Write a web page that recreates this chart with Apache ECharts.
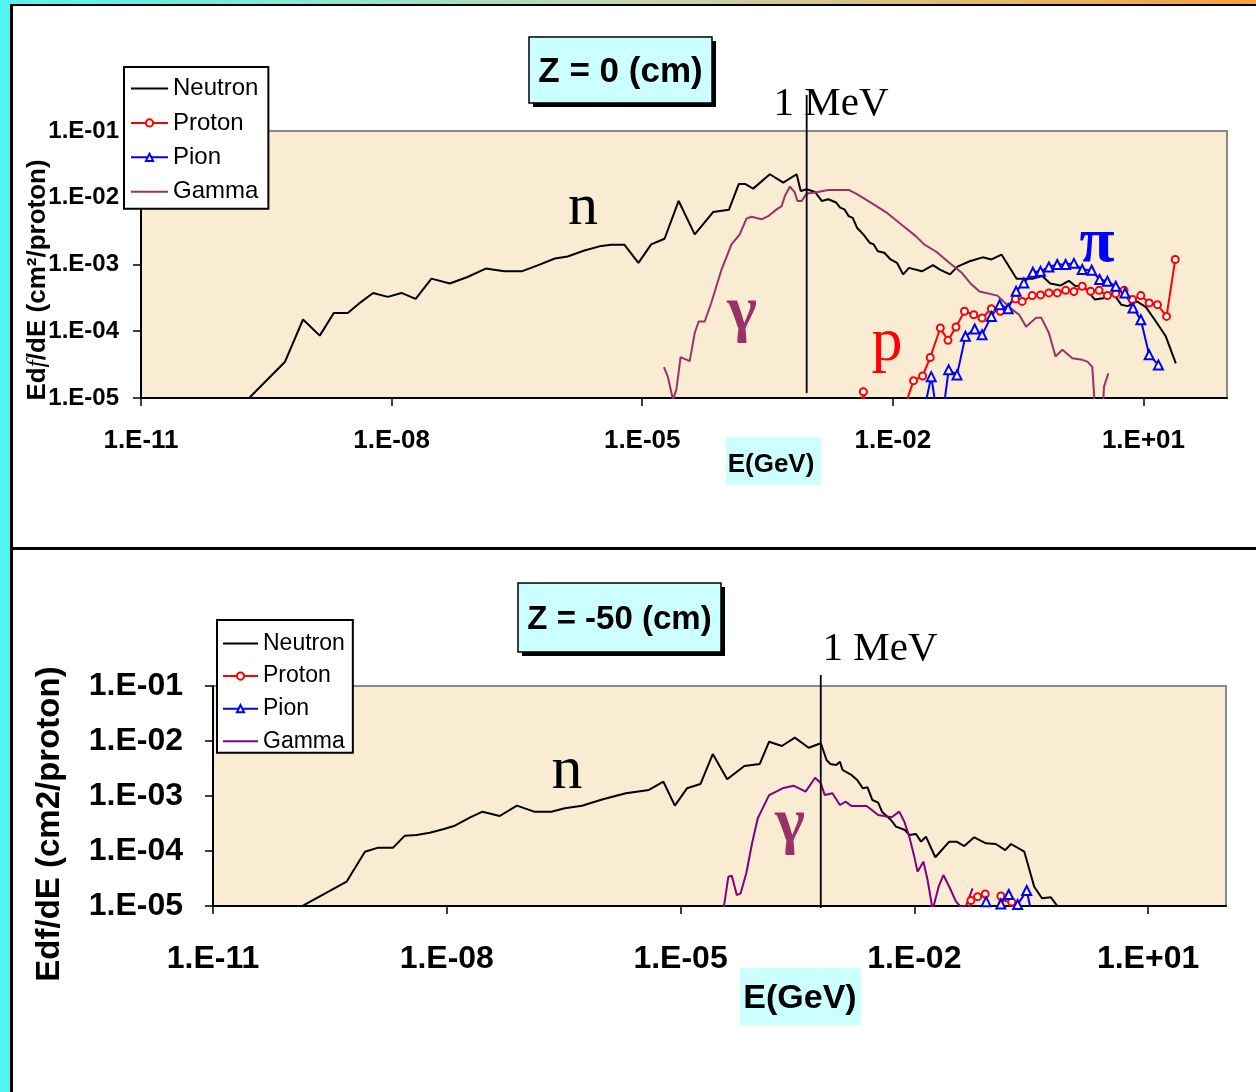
<!DOCTYPE html>
<html>
<head>
<meta charset="utf-8">
<title>Edf/dE spectra</title>
<script src="https://cdn.jsdelivr.net/npm/echarts@6.0.0/dist/echarts.min.js"></script>
<style>
  html, body { margin:0; padding:0; background:#fff; }
  #page { position:relative; width:1256px; height:1092px; overflow:hidden; background:#fff; }
  #top { position:absolute; left:0; top:0; width:1256px; height:548px; }
  #bottom { position:absolute; left:0; top:548px; width:1256px; height:544px; }
  .deco { position:absolute; }
</style>
</head>
<body>
<div id="page">
  <div id="top"></div>
  <div id="bottom"></div>
  <div class="deco" style="left:0;top:0;width:10px;height:1092px;background:#52f4ef"></div>
  <div class="deco" style="left:0;top:0;width:1256px;height:4px;background:linear-gradient(to right,#52f4ef,#c4d6b0 50%,#f7a03c)"></div>
  <div class="deco" style="left:10px;top:4px;width:1246px;height:2px;background:#000"></div>
  <div class="deco" style="left:10px;top:4px;width:3px;height:1088px;background:#000"></div>
  <div class="deco" style="left:12px;top:547px;width:1244px;height:3px;background:#000"></div>
</div>
<script>
// ---------------- DATA (E in GeV, Edf/dE in cm^2/proton) ----------------
const seriesNames = ['Neutron', 'Proton', 'Pion', 'Gamma'];
const xTickLabels = ['1.E-11', '1.E-08', '1.E-05', '1.E-02', '1.E+01'];
const yTickLabels = ['1.E-05', '1.E-04', '1.E-03', '1.E-02', '1.E-01'];

// Z = 0 cm
const neutronTop = [[1.86e-10,9.3e-6],[5.3e-10,3.5e-5],[8.7e-10,1.5e-4],[1.38e-9,8.6e-5],[2.03e-9,1.88e-4],[2.99e-9,1.88e-4],[4.25e-9,2.71e-4],[6.0e-9,3.75e-4],[9.0e-9,3.27e-4],[1.31e-8,3.75e-4],[1.94e-8,3.05e-4],[3.0e-8,6.15e-4],[4.97e-8,5.2e-4],[8.1e-8,6.5e-4],[1.34e-7,8.7e-4],[2.23e-7,7.9e-4],[3.6e-7,7.9e-4],[5.6e-7,9.7e-4],[9.0e-7,1.23e-3],[1.28e-6,1.32e-3],[2.03e-6,1.62e-3],[3.08e-6,1.87e-3],[4.25e-6,1.98e-3],[6.1e-6,1.98e-3],[9.0e-6,1.06e-3],[1.28e-5,2.0e-3],[1.85e-5,2.43e-3],[2.73e-5,8.95e-3],[4.25e-5,2.83e-3],[7.05e-5,6.1e-3],[1.09e-4,6.6e-3],[1.43e-4,1.6e-2],[1.72e-4,1.6e-2],[2.13e-4,1.37e-2],[3.37e-4,2.25e-2],[4.88e-4,1.69e-2],[7.05e-4,2.25e-2],[7.9e-4,1.26e-2],[9.3e-4,1.34e-2],[1.17e-3,1.22e-2],[1.41e-3,8.95e-3],[1.69e-3,9.5e-3],[2.09e-3,8.5e-3],[2.34e-3,7.1e-3],[2.63e-3,6.7e-3],[2.96e-3,5.3e-3],[3.31e-3,5.0e-3],[3.72e-3,3.56e-3],[4.43e-3,2.83e-3],[5.27e-3,2.12e-3],[5.9e-3,2.0e-3],[6.6e-3,1.58e-3],[7.9e-3,1.5e-3],[9.4e-3,1.19e-3],[1.12e-2,1.06e-3],[1.33e-2,7.1e-4],[1.56e-2,8.9e-4],[2.23e-2,7.9e-4],[3.02e-2,9.8e-4],[3.66e-2,8.4e-4],[4.83e-2,7.1e-4],[5.94e-2,9.3e-4],[8.3e-2,1.12e-3],[0.119,1.28e-3],[0.152,1.19e-3],[0.2,1.41e-3],[0.303,6.1e-4],[0.466,6.1e-4],[0.614,6.7e-4],[0.766,5.2e-4],[1.01,4.83e-4],[1.28,5.7e-4],[1.54,4.72e-4],[1.88,4.83e-4],[2.62,2.98e-4],[3.31,3.13e-4],[4.3,3.75e-4],[5.42,2.5e-4],[6.5,2.38e-4],[8.36,2.8e-4],[10.7,2.3e-4],[14.1,1.4e-4],[18.5,8.4e-5],[24.4,3.3e-5]];
const protonTop = [[3.9e-3,5e-6],[4.44e-3,1.24e-5],[5.0e-3,5e-6],[1.28e-2,5.5e-6],[1.77e-2,1.82e-5],[2.27e-2,2.14e-5],[2.8e-2,4.04e-5],[3.7e-2,1.12e-4],[4.57e-2,7.3e-5],[5.7e-2,1.16e-4],[7.2e-2,1.99e-4],[9.3e-2,1.77e-4],[0.117,1.58e-4],[0.151,2.18e-4],[0.194,1.99e-4],[0.294,3.05e-4],[0.353,2.8e-4],[0.466,3.42e-4],[0.586,3.5e-4],[0.738,3.75e-4],[0.929,3.75e-4],[1.17,4.1e-4],[1.47,3.93e-4],[1.85,4.72e-4],[2.33,3.96e-4],[2.94,4.1e-4],[3.7,3.42e-4],[4.66,3.66e-4],[5.86,4.1e-4],[7.4,2.98e-4],[9.3,3.42e-4],[11.7,2.65e-4],[14.7,2.5e-4],[18.9,1.67e-4],[24.0,1.19e-3]];
const pionTop = [[2.23e-2,4.6e-6],[2.88e-2,2.09e-5],[3.47e-2,4.6e-6],[3.87e-2,4.6e-6],[4.66e-2,2.64e-5],[5.86e-2,2.22e-5],[7.4e-2,8.4e-5],[9.55e-2,1.08e-4],[0.117,8.85e-5],[0.151,1.67e-4],[0.19,2.5e-4],[0.24,2.18e-4],[0.299,3.96e-4],[0.37,5.3e-4],[0.474,7.65e-4],[0.586,7.9e-4],[0.738,9.2e-4],[0.929,1.0e-3],[1.17,1.0e-3],[1.47,1.04e-3],[1.85,8.4e-4],[2.4,8.2e-4],[2.99,5.95e-4],[3.7,5.6e-4],[4.66,4.72e-4],[6.0,3.75e-4],[7.5,2.23e-4],[9.3,1.49e-4],[11.7,4.43e-5],[15.1,3.13e-5]];
const gammaTop = [[1.82e-5,2.9e-5],[2.03e-5,2.07e-5],[2.33e-5,9.5e-6],[2.56e-5,1.32e-5],[2.88e-5,4.1e-5],[3.7e-5,3.56e-5],[4.25e-5,9.4e-5],[4.74e-5,1.4e-4],[5.6e-5,1.4e-4],[6.7e-5,2.65e-4],[8.9e-5,8.4e-4],[1.17e-4,2.0e-3],[1.47e-4,2.83e-3],[1.77e-4,4.86e-3],[2.03e-4,5.2e-3],[2.68e-4,4.75e-3],[3.22e-4,5.3e-3],[4.06e-4,6.7e-3],[4.66e-4,7.5e-3],[5.1e-4,1.06e-2],[5.86e-4,1.47e-2],[6.7e-4,1.2e-2],[7.2e-4,8.95e-3],[8.1e-4,8.95e-3],[9.3e-4,1.16e-2],[1.17e-3,1.2e-2],[1.69e-3,1.31e-2],[2.96e-3,1.31e-2],[3.72e-3,1.13e-2],[5.9e-3,7.98e-3],[8.4e-3,6.0e-3],[1.33e-2,3.77e-3],[1.88e-2,2.66e-3],[2.37e-2,2.0e-3],[3.34e-2,1.54e-3],[4.74e-2,1.06e-3],[6.7e-2,7.5e-4],[8.4e-2,5.3e-4],[0.109,3.93e-4],[0.179,3.42e-4],[0.261,2.18e-4],[0.325,1.77e-4],[0.394,1.17e-4],[0.52,1.6e-4],[0.597,1.6e-4],[0.738,9.4e-5],[0.887,4.18e-5],[1.07,5.27e-5],[1.41,3.95e-5],[1.85,3.73e-5],[2.13,3.5e-5],[2.44,2.92e-5],[2.68,5e-6],[3.22,5e-6],[3.37,1.48e-5],[3.8,2.35e-5]];

// Z = -50 cm
const neutronBottom = [[1.24e-10,9.1e-6],[5.18e-10,2.77e-5],[8.9e-10,9.7e-5],[1.32e-9,1.15e-4],[2.05e-9,1.15e-4],[2.9e-9,1.9e-4],[4.09e-9,1.95e-4],[6.05e-9,2.15e-4],[8.97e-9,2.48e-4],[1.27e-8,2.88e-4],[1.97e-8,4.04e-4],[2.87e-8,5.19e-4],[4.78e-8,4.33e-4],[7.94e-8,6.67e-4],[1.32e-7,5.19e-4],[2.2e-7,5.19e-4],[3.27e-7,5.97e-4],[5.43e-7,6.67e-4],[1.01e-6,8.7e-4],[1.99e-6,1.12e-3],[3.93e-6,1.29e-3],[6.03e-6,1.82e-3],[8.45e-6,6.67e-4],[1.21e-5,1.38e-3],[1.8e-5,1.65e-3],[2.59e-5,5.8e-3],[3.97e-5,2.01e-3],[6.59e-5,3.52e-3],[1.04e-4,3.82e-3],[1.37e-4,9.7e-3],[2.0e-4,8.1e-3],[2.93e-4,1.15e-2],[4.41e-4,7.55e-3],[6.32e-4,9.1e-3],[7.48e-4,4.52e-3],[8.38e-4,3.82e-3],[9.95e-4,3.66e-3],[1.11e-3,4.2e-3],[1.2e-3,2.97e-3],[1.56e-3,2.41e-3],[1.85e-3,1.95e-3],[2.19e-3,1.38e-3],[2.51e-3,1.44e-3],[2.9e-3,8.45e-4],[3.44e-3,7.55e-4],[3.85e-3,5.19e-4],[5.02e-3,3.66e-4],[5.82e-3,2.77e-4],[7.6e-3,2.41e-4],[8.63e-3,1.95e-4],[1.05e-2,2.04e-4],[1.22e-2,1.48e-4],[1.41e-2,1.82e-4],[1.86e-2,7.69e-5],[2.81e-2,1.48e-4],[3.48e-2,1.48e-4],[4.38e-2,1.23e-4],[5.87e-2,1.77e-4],[8.3e-2,1.38e-4],[0.111,1.34e-4],[0.147,1.04e-4],[0.174,1.34e-4],[0.258,9.7e-5],[0.346,2.24e-5],[0.435,1.38e-5],[0.566,1.44e-5],[0.692,9.8e-6]];
const protonBottom = [[4.93e-2,8e-6],[5.33e-2,1.26e-5],[6.49e-2,1.48e-5],[8.13e-2,1.65e-5],[9.14e-2,8e-6],[0.116,8e-6],[0.129,1.52e-5],[0.158,1.4e-5],[0.178,1.18e-5],[0.191,8e-6]];
const pionBottom = [[7.23e-2,8e-6],[8.34e-2,1.2e-5],[9.44e-2,8e-6],[0.113,8e-6],[0.129,1.09e-5],[0.163,1.62e-5],[0.212,1.06e-5],[0.277,1.91e-5],[0.316,8e-6]];
const gammaBottom = [[3.55e-5,8.5e-6],[4.11e-5,3.41e-5],[4.55e-5,3.56e-5],[5.27e-5,1.58e-5],[5.9e-5,1.7e-5],[6.98e-5,3.94e-5],[8.28e-5,1.38e-4],[9.8e-5,3.94e-4],[1.16e-4,6.4e-4],[1.37e-4,1.04e-3],[2.04e-4,1.38e-3],[2.81e-4,1.54e-3],[4.03e-4,1.2e-3],[5.33e-4,2.15e-3],[6.32e-4,1.7e-3],[7.08e-4,1.04e-3],[8.9e-4,1.12e-3],[1.11e-3,6.86e-4],[1.32e-3,7.87e-4],[1.56e-3,6.58e-4],[2.45e-3,6.58e-4],[3.44e-3,4.52e-4],[5.12e-3,4.1e-4],[6.41e-3,5.19e-4],[7.45e-3,3.41e-4],[8.63e-3,1.82e-4],[1.0e-2,7.89e-5],[1.1e-2,4.21e-5],[1.31e-2,6.4e-5],[1.48e-2,2.97e-5],[1.72e-2,8.5e-6],[2.05e-2,2.24e-5],[2.36e-2,3.66e-5],[2.81e-2,2.24e-5],[3.43e-2,1.2e-5],[3.97e-2,9.6e-6],[4.6e-2,1.0e-5],[5.6e-2,2.1e-5]];

// position of the "1 MeV" marker line (GeV)
const markerTopE = 9.3e-4;
const markerBottomE = 6.3e-4;

// ---------------- STYLE ----------------
const SANS = '"Liberation Sans", Arial, sans-serif';
const SERIF = '"Liberation Serif", "Times New Roman", serif';

function expLabel(v) {
  const e = Math.round(Math.log10(v));
  return '1.E' + (e < 0 ? '-' : '+') + String(Math.abs(e)).padStart(2, '0');
}

function makeSeries(data, cfg) {
  return [
    { name: 'Neutron', type: 'line', data: data.neutron, symbol: 'none', clip: true,
      lineStyle: { color: '#000', width: 2 }, itemStyle: { color: '#000' } },
    { name: 'Proton', type: 'line', data: data.proton, symbol: 'emptyCircle', symbolSize: 7, clip: true,
      lineStyle: { color: '#ff0000', width: 2 }, itemStyle: { color: '#ff0000', borderWidth: 1.6 } },
    { name: 'Pion', type: 'line', data: data.pion, symbol: 'emptyTriangle', symbolSize: 9, clip: true,
      lineStyle: { color: '#0000ff', width: 2 }, itemStyle: { color: '#0000ff', borderWidth: 1.6 } },
    { name: 'Gamma', type: 'line', data: data.gamma, symbol: 'none', clip: true,
      lineStyle: { color: cfg.gammaColor, width: 2 }, itemStyle: { color: cfg.gammaColor } }
  ];
}

function legendData() {
  // line-only series show no marker in the legend
  return seriesNames.map(n => (n === 'Neutron' || n === 'Gamma')
    ? { name: n, itemStyle: { opacity: 0, borderWidth: 0 } }
    : { name: n });
}

function makeOption(cfg, data) {
  return {
    animation: false,
    grid: { left: cfg.grid[0], top: cfg.grid[1], width: cfg.grid[2], height: cfg.grid[3],
            show: true, backgroundColor: '#f9ecd3', borderColor: '#8a8a8a', borderWidth: 2 },
    legend: {
      data: legendData(), orient: 'vertical', left: cfg.legend.left, top: cfg.legend.top,
      itemWidth: cfg.legend.itemWidth, itemHeight: 9, itemGap: cfg.legend.gap,
      padding: cfg.legend.padding, backgroundColor: '#fff', borderColor: '#000', borderWidth: 2,
      textStyle: { fontSize: cfg.legend.font, fontFamily: SANS, color: '#000' }, selectedMode: false
    },
    xAxis: {
      type: 'log', logBase: 10, min: 1e-11, max: 1e2, interval: 3,
      axisLine: { show: true, onZero: false, lineStyle: { color: '#000', width: 2 } },
      axisTick: { show: true, length: cfg.tickLen, lineStyle: { color: '#000', width: 1.5 } },
      axisLabel: { formatter: expLabel, fontSize: cfg.xFont, fontWeight: 'bold', fontFamily: SANS,
                   color: '#000', margin: cfg.xMargin, showMaxLabel: false },
      splitLine: { show: false }, minorTick: { show: false }, minorSplitLine: { show: false }
    },
    yAxis: {
      type: 'log', logBase: 10, min: 1e-5, max: 1e-1, interval: 1,
      axisLine: { show: true, onZero: false, lineStyle: { color: '#000', width: 2 } },
      axisTick: { show: true, length: cfg.tickLen, lineStyle: { color: '#000', width: 1.5 } },
      axisLabel: { formatter: expLabel, fontSize: cfg.yFont, fontWeight: 'bold', fontFamily: SANS,
                   color: '#000', margin: cfg.yMargin },
      splitLine: { show: false }, minorTick: { show: false }, minorSplitLine: { show: false }
    },
    series: makeSeries(data, cfg)
  };
}

function txt(x, y, text, font, color, extra) {
  return Object.assign({ type: 'text', x: x, y: y, z: 100,
    style: { text: text, font: font, fill: color, align: 'center', verticalAlign: 'middle',
             textAlign: 'center', textVerticalAlign: 'middle' } }, extra || {});
}

function decorate(chart, cfg, markerE) {
  const mx = chart.convertToPixel({ xAxisIndex: 0 }, markerE);
  const g = [];
  // title box with shadow
  const b = cfg.titleBox;
  g.push({ type: 'rect', z: 90, shape: { x: b[0] + 4, y: b[1] + 4, width: b[2], height: b[3] }, style: { fill: '#000' } });
  g.push({ type: 'rect', z: 91, shape: { x: b[0], y: b[1], width: b[2], height: b[3] }, style: { fill: '#ccffff', stroke: '#000', lineWidth: 1.5 } });
  g.push(txt(b[0] + b[2] / 2, b[1] + b[3] / 2 + 2, cfg.title, 'bold ' + cfg.titleFont + 'px ' + SANS, '#000'));
  // 1 MeV marker
  g.push({ type: 'line', z: 95, shape: { x1: mx, y1: cfg.markerY[0], x2: mx, y2: cfg.markerY[1] }, style: { stroke: '#000', lineWidth: 1.8 } });
  g.push(txt(cfg.mevPos[0], cfg.mevPos[1], '1 MeV', cfg.mevFont + 'px ' + SERIF, '#000'));
  // x axis name box
  const e = cfg.eBox;
  g.push({ type: 'rect', z: 90, shape: { x: e[0], y: e[1], width: e[2], height: e[3] }, style: { fill: '#ccffff' } });
  g.push(txt(cfg.eText[0], cfg.eText[1], 'E(GeV)', 'bold ' + cfg.eFont + 'px ' + SANS, '#000'));
  // y axis name (rotated)
  g.push({ type: 'text', x: cfg.yName[0], y: cfg.yName[1], rotation: Math.PI / 2, z: 100,
    style: { text: cfg.yNameRich ? '{a|Ed}{f|f}{a|/dE (cm²/proton)}' : 'Edf/dE (cm2/proton)',
             font: 'bold ' + cfg.yNameFont + 'px ' + SANS, fill: '#000',
             align: 'center', verticalAlign: 'middle', textAlign: 'center', textVerticalAlign: 'middle',
             rich: { a: { font: 'bold ' + cfg.yNameFont + 'px ' + SANS, fill: '#000' },
                     f: { font: 'italic ' + cfg.yNameFont + 'px ' + SERIF, fill: '#000' } } } });
  // curve annotations
  cfg.notes.forEach(n => g.push(txt(n.x, n.y, n.t, n.font, n.c)));
  chart.setOption({ graphic: g });
}

// ---------------- TOP PANEL ----------------
const topCfg = {
  grid: [141, 131, 1086, 267], gammaColor: '#993366', tickLen: 8,
  xFont: 26, xMargin: 30, yFont: 24, yMargin: 22,
  legend: { left: 124, top: 67, itemWidth: 37, gap: 10.4, padding: [9.5, 10, 5, 6], font: 24 },
  titleBox: [529, 37, 183, 66], title: 'Z = 0 (cm)', titleFont: 35,
  markerY: [95, 393], mevPos: [831, 104], mevFont: 41,
  eBox: [726, 437, 95, 48], eText: [771, 465], eFont: 26,
  yName: [37.5, 280], yNameFont: 26, yNameRich: true,
  notes: [
    { x: 583, y: 208, t: 'n', font: '60px ' + SERIF, c: '#000' },
    { x: 742, y: 312, t: 'γ', font: 'bold 64px ' + SERIF, c: '#993366' },
    { x: 887, y: 344, t: 'p', font: '62px ' + SERIF, c: '#ff0000' },
    { x: 1097, y: 244, t: 'π', font: 'bold 64px ' + SERIF, c: '#0000ff' }
  ]
};
const chartTop = echarts.init(document.getElementById('top'), null, { renderer: 'canvas' });
chartTop.setOption(makeOption(topCfg, { neutron: neutronTop, proton: protonTop, pion: pionTop, gamma: gammaTop }));
decorate(chartTop, topCfg, markerTopE);

// ---------------- BOTTOM PANEL (y offset 548) ----------------
const botCfg = {
  grid: [213, 138, 1013, 220], gammaColor: '#800080', tickLen: 8,
  xFont: 32, xMargin: 37, yFont: 32, yMargin: 30,
  legend: { left: 217, top: 72, itemWidth: 35, gap: 9.6, padding: [12, 8, 0, 5], font: 23 },
  titleBox: [518, 35, 203, 69], title: 'Z = -50 (cm)', titleFont: 33,
  markerY: [127, 360], mevPos: [880, 101], mevFont: 41,
  eBox: [740, 420, 121, 57], eText: [800, 451], eFont: 34,
  yName: [50, 276], yNameFont: 33, yNameRich: false,
  notes: [
    { x: 567, y: 224, t: 'n', font: '62px ' + SERIF, c: '#000' },
    { x: 790, y: 276, t: 'γ', font: 'bold 64px ' + SERIF, c: '#993366' }
  ]
};
const chartBot = echarts.init(document.getElementById('bottom'), null, { renderer: 'canvas' });
chartBot.setOption(makeOption(botCfg, { neutron: neutronBottom, proton: protonBottom, pion: pionBottom, gamma: gammaBottom }));
decorate(chartBot, botCfg, markerBottomE);
</script>
</body>
</html>
